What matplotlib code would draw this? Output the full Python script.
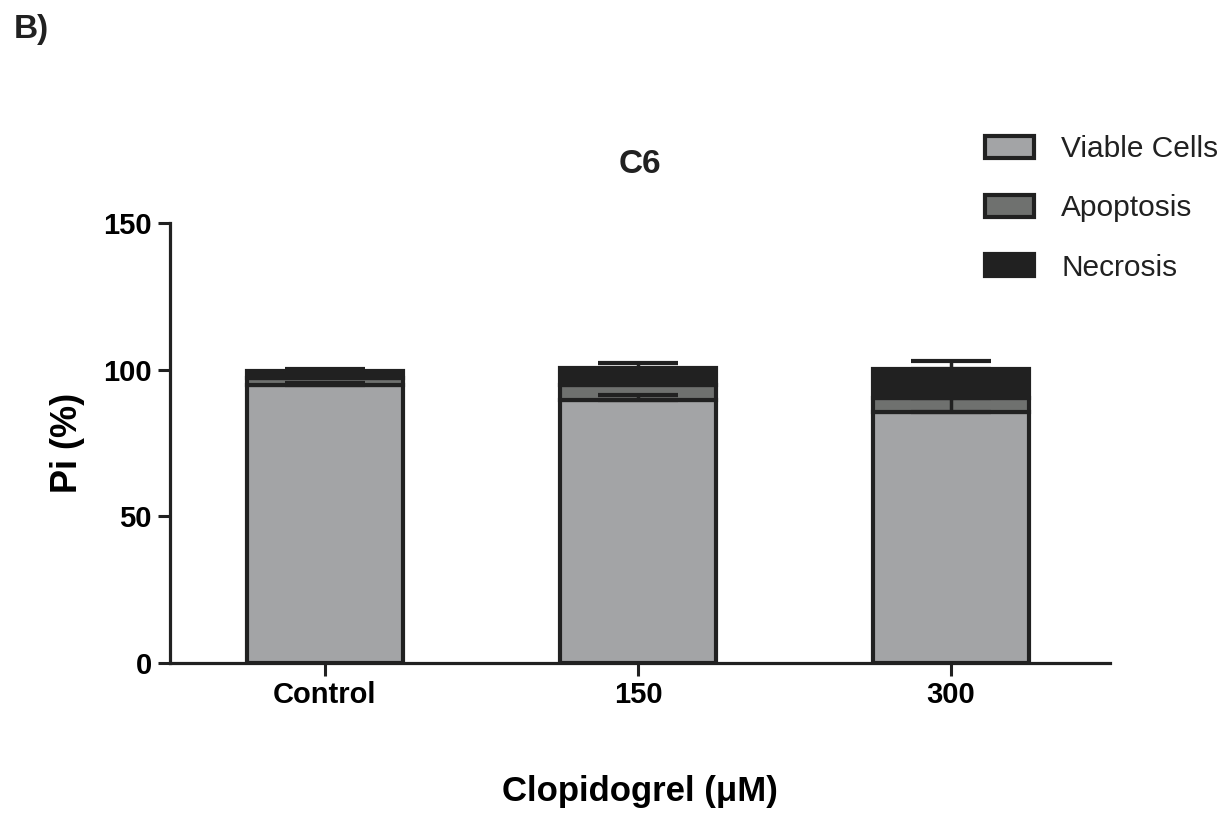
import numpy as np
import matplotlib
matplotlib.use('Agg')
from matplotlib import pyplot as plt

# values (percent of cells)
groups = ['Control', '150', '300']
viable = [94.8, 89.7, 85.6]
apoptosis = [2.4, 5.1, 4.8]
necrosis = [2.4, 5.7, 9.8]
viable_err = [0.7, 1.7, 4.8]
necrosis_err = [0.5, 1.9, 2.7]

c_viable = '#a3a4a6'
c_apop = '#6f716f'
c_necro = '#212121'
edge = '#212121'

plt.rcParams['font.family'] = ['Liberation Sans', 'DejaVu Sans']
plt.rcParams['text.color'] = '#212121'

fig = plt.figure(figsize=(12.31, 8.16), dpi=100)
ax = fig.add_axes([170/1231, 1-663/816, 940/1231, 440/816])

x = np.arange(len(groups))
w = 0.5
lw = 3

v = np.array(viable)
a = np.array(apoptosis)
n = np.array(necrosis)

ax.bar(x, v, w, color=c_viable, edgecolor=edge, linewidth=lw, label='Viable Cells', zorder=2)
ax.bar(x, a, w, bottom=v, color=c_apop, edgecolor=edge, linewidth=lw, label='Apoptosis', zorder=2)
ax.bar(x, n, w, bottom=v+a, color=c_necro, edgecolor=edge, linewidth=lw, label='Necrosis', zorder=2)

# upper error bars only, like prism
zeros = np.zeros(len(groups))
for top, err in [(v, viable_err), (v+a+n, necrosis_err)]:
    eb = ax.errorbar(x, top, yerr=[zeros, err], fmt='none', ecolor=edge,
                     elinewidth=2.5, capsize=29, capthick=3, zorder=3)
    for cap in eb[1]:
        cap.set_solid_capstyle('round')

ax.set_xlim(-0.495, 2.508)
ax.set_ylim(0, 150)
ax.set_yticks([0, 50, 100, 150])
ax.set_xticks(x)
ax.set_xticklabels(groups)

for s in ['top', 'right']:
    ax.spines[s].set_visible(False)
for s in ['left', 'bottom']:
    ax.spines[s].set_linewidth(2.3)
    ax.spines[s].set_color(edge)
ax.tick_params(axis='both', length=9, width=2.2, color=edge, labelsize=21, pad=4)
for lab in ax.get_xticklabels() + ax.get_yticklabels():
    lab.set_fontweight('bold')

ax.set_title('C6', fontsize=24, fontweight='bold', pad=36)
ax.set_xlabel('Clopidogrel (\u03bcM)', fontsize=25, fontweight='bold')
ax.xaxis.set_label_coords(0.5, -0.255)
ax.set_ylabel('Pi (%)', fontsize=26, fontweight='bold')
ax.yaxis.set_label_coords(-0.09, 0.5)

leg = fig.legend(loc='upper left', bbox_to_anchor=(985/1231, 1-135/816),
                 frameon=False, fontsize=21.5, handlelength=1.65, handleheight=0.75,
                 handletextpad=0.9, labelspacing=1.05, borderpad=0, borderaxespad=0)
for p in leg.get_patches():
    p.set_linewidth(3)

fig.text(14/1231, 1-14/816, 'B)', fontsize=24, fontweight='bold', va='top', ha='left')

fig.savefig('out.png', dpi=100)
